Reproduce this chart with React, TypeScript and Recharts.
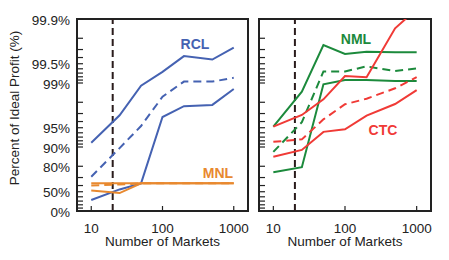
import { LineChart, Line, XAxis, YAxis, ReferenceLine, ReferenceArea } from 'recharts';

const markets = [10, 25, 50, 100, 200, 500, 1000];

// percent of ideal profit
const rclHigh = [91.4, 96.8, 98.9, 99.33, 99.62, 99.57, 99.72];
const rclMid = [70.9, 89.6, 95.3, 98.36, 99.05, 99.05, 99.17];
const rclLow = [32.7, 54, 63, 96.6, 97.7, 97.8, 98.76];
const mnlHigh = [63, 63, 63, 63, 63, 63, 63];
const mnlMid = [60, 61.5, 63, 63, 63, 63, 63];
const mnlLow = [52, 47.6, 63, 63, 63, 63, 63];

const nmlHigh = [95.2, 98.63, 99.745, 99.648, 99.676, 99.669, 99.669];
const nmlMid = [88.1, 95.9, 99.34, 99.34, 99.45, 99.35, 99.41];
const nmlLow = [75.2, 79.3, 98.95, 99.1, 99.1, 99.07, 99.07];
const ctcHigh = [95.2, 96.84, 98.2, 99.22, 99.19, 99.86, 99.93];
const ctcMid = [91.7, 92.4, 96.3, 97.85, 98.24, 98.79, 99.19];
const ctcLow = [85.8, 88.9, 94.2, 94.7, 96.76, 97.87, 98.71];

const yLabelTicks = [0, 50, 80, 90, 95, 99, 99.5, 99.9];
const yMinorTicks = [
  10, 20, 30, 40, 60, 70, 91, 92, 93, 94, 96, 97, 98,
  99.1, 99.2, 99.3, 99.4, 99.6, 99.7, 99.8,
];
const xTicks = [10, 100, 1000];
const cutoff = 20;

const BLUE = '#4562b2';
const ORANGE = '#e8892f';
const GREEN = '#1c8a3c';
const RED = '#f03a36';
const INK = '#222';
const FONT = '"Liberation Sans", Arial, sans-serif';
const FS = 13.5;

const toT = (p: number) => -Math.log10(1 - p / 100);
const toX = (n: number) => Math.log10(n);

const X_DOMAIN: [number, number] = [0.8, 3.2];
const Y_DOMAIN: [number, number] = [0, 3];

function buildRows(series: Record<string, number[]>) {
  return markets.map((m, i) => {
    const row: Record<string, number> = { x: toX(m) };
    for (const k of Object.keys(series)) row[k] = toT(series[k][i]);
    return row;
  });
}

const leftRows = buildRows({ rclHigh, rclMid, rclLow, mnlHigh, mnlMid, mnlLow });
const rightRows = buildRows({ nmlHigh, nmlMid, nmlLow, ctcHigh, ctcMid, ctcLow });

const yTickValues = [...yLabelTicks, ...yMinorTicks].map(toT);

function labelFor(v: number) {
  const p = yLabelTicks.find(l => Math.abs(toT(l) - v) < 1e-9);
  return p === undefined ? null : `${p}%`;
}

function YTick(props: any) {
  const { x, y, payload, withText, margin } = props;
  const ax = x + margin;
  const label = labelFor(payload.value);
  return (
    <g>
      <line x1={ax} x2={ax + 6} y1={y} y2={y} stroke={INK} strokeWidth={1.2} />
      {withText && label && (
        <text x={x} y={y} dy={5.5} textAnchor="end" fontSize={FS} fill={INK} fontFamily={FONT}>
          {label}
        </text>
      )}
    </g>
  );
}

function XTick(props: any) {
  const { x, y, payload } = props;
  const ay = y - 9;
  return (
    <g>
      <line x1={x} x2={x} y1={ay} y2={ay - 5} stroke={INK} strokeWidth={1.2} />
      <text x={x} y={y} dy={12.5} textAnchor="middle" fontSize={FS} fill={INK} fontFamily={FONT}>
        {Math.round(Math.pow(10, payload.value))}
      </text>
    </g>
  );
}

function Panel({ rows, width, yWidth, right, withText, series }: any) {
  return (
    <LineChart
      width={width}
      height={260}
      data={rows}
      margin={{ top: 19, right, left: 0, bottom: 19 }}
    >
      <XAxis
        type="number"
        dataKey="x"
        domain={X_DOMAIN}
        allowDataOverflow
        ticks={xTicks.map(toX)}
        interval={0}
        axisLine={false}
        tickLine={false}
        tickSize={0}
        tickMargin={9}
        height={30}
        tick={<XTick />}
      />
      <YAxis
        type="number"
        domain={Y_DOMAIN}
        allowDataOverflow
        ticks={yTickValues}
        interval={0}
        axisLine={false}
        tickLine={false}
        tickSize={0}
        tickMargin={withText ? 7 : 0}
        width={yWidth}
        tick={<YTick withText={withText} margin={withText ? 7 : 0} />}
      />
      <ReferenceLine
        x={toX(cutoff)}
        stroke="#2a1c1c"
        strokeWidth={2}
        strokeDasharray="7 4"
      />
      {series.map((s: any) => (
        <Line
          key={s.key}
          dataKey={s.key}
          type="linear"
          stroke={s.color}
          strokeWidth={2}
          strokeDasharray={s.dashed ? '8 5' : undefined}
          dot={false}
          activeDot={false}
          isAnimationActive={false}
        />
      ))}
      <ReferenceArea
        x1={X_DOMAIN[0]}
        x2={X_DOMAIN[1]}
        y1={Y_DOMAIN[0]}
        y2={Y_DOMAIN[1]}
        fill="none"
        stroke={INK}
        strokeWidth={2}
        ifOverflow="visible"
      />
    </LineChart>
  );
}

const leftSeries = [
  { key: 'rclHigh', color: BLUE },
  { key: 'rclMid', color: BLUE, dashed: true },
  { key: 'rclLow', color: BLUE },
  { key: 'mnlLow', color: ORANGE },
  { key: 'mnlMid', color: ORANGE, dashed: true },
  { key: 'mnlHigh', color: ORANGE },
];

const rightSeries = [
  { key: 'nmlHigh', color: GREEN },
  { key: 'nmlMid', color: GREEN, dashed: true },
  { key: 'nmlLow', color: GREEN },
  { key: 'ctcHigh', color: RED },
  { key: 'ctcMid', color: RED, dashed: true },
  { key: 'ctcLow', color: RED },
];

function Tag({ text, x, y, color }: { text: string; x: number; y: number; color: string }) {
  return (
    <div
      style={{
        position: 'absolute', left: x, top: y, transform: 'translate(-50%, -50%)',
        color, fontWeight: 'bold', fontSize: 14, lineHeight: '14px', whiteSpace: 'nowrap',
      }}
    >
      {text}
    </div>
  );
}

export default function App() {
  const axisTitle = { position: 'absolute' as const, fontSize: FS, color: INK, whiteSpace: 'nowrap' as const, lineHeight: '14px' };
  return (
    <div style={{ position: 'absolute', left: 0, top: 0, width: 449, height: 260, background: '#fff', fontFamily: FONT, overflow: 'hidden' }}>
      <div style={{ position: 'absolute', left: 0, top: 0 }}>
        <Panel rows={leftRows} width={250} yWidth={77} right={2} withText series={leftSeries} />
      </div>
      <div style={{ position: 'absolute', left: 250, top: 0 }}>
        <Panel rows={rightRows} width={199} yWidth={9} right={18} withText={false} series={rightSeries} />
      </div>

      <Tag text="RCL" x={195} y={44} color={BLUE} />
      <Tag text="MNL" x={218} y={173} color={ORANGE} />
      <Tag text="NML" x={356} y={39} color={GREEN} />
      <Tag text="CTC" x={383} y={130} color={RED} />

      <div style={{ ...axisTitle, left: 162.5, top: 242, transform: 'translate(-50%, -50%)' }}>Number of Markets</div>
      <div style={{ ...axisTitle, left: 345, top: 242, transform: 'translate(-50%, -50%)' }}>Number of Markets</div>
      <div style={{ ...axisTitle, left: 15, top: 108, transform: 'translate(-50%, -50%) rotate(-90deg)' }}>
        Percent of Ideal Profit (%)
      </div>
    </div>
  );
}
